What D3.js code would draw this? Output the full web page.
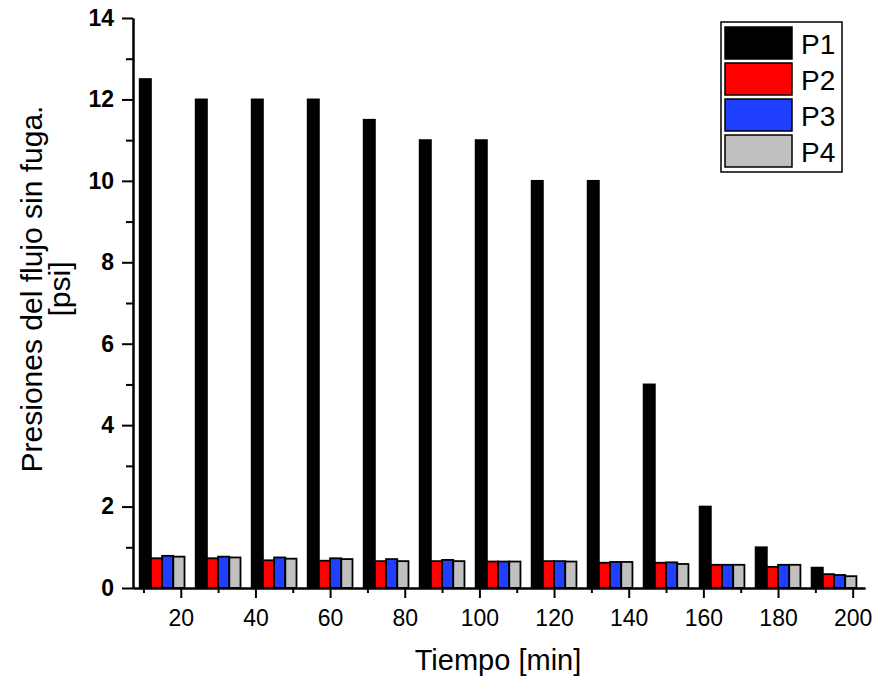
<!DOCTYPE html>
<html>
<head>
<meta charset="utf-8">
<script src="https://cdn.jsdelivr.net/npm/d3@7"></script>
<style>
  body { margin: 0; background: #fff; }
  text { font-family: Arial, "Liberation Sans", sans-serif; }
</style>
</head>
<body>
<div id="my_dataviz"></div>
<script>
// data
var tiempos = [15, 30, 45, 60, 75, 90, 105, 120, 135, 150, 165, 180, 195];
var P1 = [12.5, 12, 12, 12, 11.5, 11, 11, 10, 10, 5, 2, 1, 0.5];
var P2 = [0.73, 0.73, 0.68, 0.67, 0.66, 0.66, 0.65, 0.66, 0.62, 0.62, 0.57, 0.52, 0.34];
var P3 = [0.79, 0.77, 0.75, 0.73, 0.71, 0.69, 0.65, 0.66, 0.64, 0.63, 0.57, 0.57, 0.32];
var P4 = [0.77, 0.75, 0.72, 0.71, 0.66, 0.66, 0.65, 0.65, 0.64, 0.59, 0.57, 0.57, 0.29];
var seriesNames = ["P1", "P2", "P3", "P4"];
var colors = ["#000000", "#ff0000", "#1f3fff", "#c0c0c0"];
var xTicks = [20, 40, 60, 80, 100, 120, 140, 160, 180, 200];
var xMinorTicks = [10, 30, 50, 70, 90, 110, 130, 150, 170, 190];
var yTicks = [0, 2, 4, 6, 8, 10, 12, 14];
var yMinorTicks = [1, 3, 5, 7, 9, 11, 13];

var width = 878, height = 678;

var svg = d3.select("#my_dataviz")
  .append("svg")
    .attr("width", width)
    .attr("height", height);

// scales
var x = d3.scaleLinear().domain([7.2, 203.3]).range([133, 865]);
var y = d3.scaleLinear().domain([0, 14]).range([588, 18]);
// offset of each series inside a group, in minutes
var sub = d3.scaleBand().domain(seriesNames).range([-6, 6]);

var allSeries = [P1, P2, P3, P4];

// bars
allSeries.forEach(function(vals, si) {
  svg.append("g")
    .selectAll("rect")
    .data(vals)
    .enter()
    .append("rect")
      .attr("x", function(d, i) { return x(tiempos[i] + sub(seriesNames[si])); })
      .attr("width", function() { return x(sub.bandwidth()) - x(0); })
      .attr("y", function(d) { return y(d); })
      .attr("height", function(d) { return y(0) - y(d); })
      .attr("fill", colors[si])
      .attr("stroke", "#000")
      .attr("stroke-width", 1.8);
});

// X axis
var gx = svg.append("g")
  .attr("transform", "translate(0," + y(0) + ")");
gx.call(d3.axisBottom(x).tickValues(xTicks).tickSize(10).tickSizeOuter(0).tickPadding(12));
gx.append("g")
  .call(d3.axisBottom(x).tickValues(xMinorTicks).tickSize(5).tickFormat("").tickSizeOuter(0));
gx.selectAll("path, line").attr("stroke", "#000").attr("stroke-width", 2);
gx.selectAll("text").attr("font-size", 23).attr("fill", "#000")
  .style("font-family", "Arial, 'Liberation Sans', sans-serif");

// Y axis
var gy = svg.append("g")
  .attr("transform", "translate(" + x(7.2) + ",0)");
gy.call(d3.axisLeft(y).tickValues(yTicks).tickSize(11).tickSizeOuter(0).tickPadding(8));
gy.append("g")
  .call(d3.axisLeft(y).tickValues(yMinorTicks).tickSize(7).tickFormat("").tickSizeOuter(0));
gy.selectAll("path, line").attr("stroke", "#000").attr("stroke-width", 2);
gy.selectAll("text").attr("font-size", 23).attr("font-weight", "bold").attr("fill", "#000")
  .style("font-family", "Arial, 'Liberation Sans', sans-serif");

// axis titles
svg.append("text")
  .attr("x", 498)
  .attr("y", 670)
  .attr("text-anchor", "middle")
  .attr("font-size", 29)
  .text("Tiempo [min]");

var yt = svg.append("text")
  .attr("transform", "translate(42,289) rotate(-90)")
  .attr("text-anchor", "middle")
  .attr("font-size", 30);
yt.append("tspan").attr("x", 0).attr("dy", 0).text("Presiones del flujo sin fuga.");
yt.append("tspan").attr("x", 0).attr("dy", 28).text("[psi]");

// legend
var legend = svg.append("g");
legend.append("rect")
  .attr("x", 721).attr("y", 22)
  .attr("width", 121).attr("height", 150)
  .attr("fill", "#fff")
  .attr("stroke", "#000")
  .attr("stroke-width", 1.5);
var items = legend.selectAll(".item")
  .data(seriesNames)
  .enter()
  .append("g")
    .attr("transform", function(d, i) { return "translate(725," + (27 + i * 36) + ")"; });
items.append("rect")
  .attr("width", 67).attr("height", 32)
  .attr("fill", function(d, i) { return colors[i]; })
  .attr("stroke", "#000")
  .attr("stroke-width", 1.5);
items.append("text")
  .attr("x", 76).attr("y", 27)
  .attr("font-size", 28)
  .text(function(d) { return d; });
</script>
</body>
</html>
